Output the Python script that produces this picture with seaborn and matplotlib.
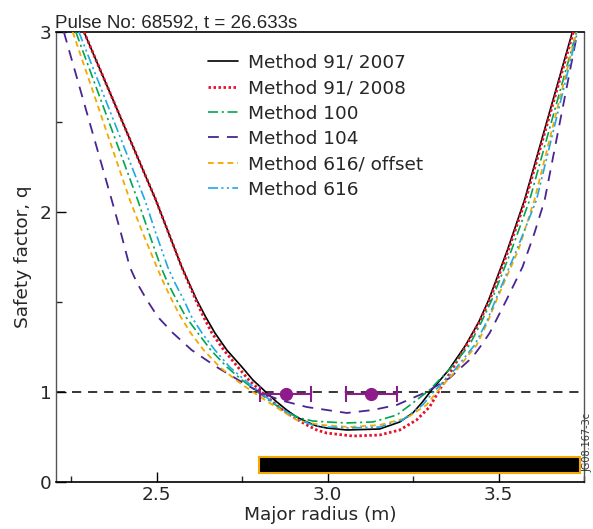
import numpy as np
import pandas as pd
import matplotlib
matplotlib.use("Agg")
import matplotlib.pyplot as plt
import seaborn as sns

# ---------------- data ----------------
labels = ["Method 91/ 2007", "Method 91/ 2008", "Method 100",
          "Method 104", "Method 616/ offset", "Method 616"]

r_9107 = [2.287, 2.497, 2.573, 2.617, 2.643, 2.670, 2.705, 2.749, 2.781, 2.819, 2.848,
          2.880, 2.909, 2.939, 2.968, 2.997, 3.056, 3.152, 3.211, 3.249, 3.275, 3.304,
          3.354, 3.404, 3.442, 3.471, 3.526, 3.576, 3.716]
q_9107 = [3.0, 2.067, 1.694, 1.511, 1.417, 1.328, 1.233, 1.139, 1.067, 1.0, 0.90,
          0.80, 0.722, 0.667, 0.622, 0.60, 0.578, 0.589, 0.667, 0.767, 0.878, 1.011,
          1.122, 1.261, 1.389, 1.511, 1.789, 2.067, 3.0]

r_9108 = [2.287, 2.497, 2.573, 2.614, 2.637, 2.661, 2.696, 2.737, 2.769, 2.807, 2.836,
          2.868, 2.904, 2.939, 2.968, 2.997, 3.073, 3.152, 3.211, 3.260, 3.298, 3.327,
          3.363, 3.406, 3.444, 3.474, 3.529, 3.579, 3.719]
q_9108 = [3.0, 2.067, 1.694, 1.511, 1.417, 1.328, 1.233, 1.139, 1.067, 1.0, 0.90,
          0.80, 0.711, 0.633, 0.578, 0.544, 0.511, 0.522, 0.578, 0.689, 0.833, 1.011,
          1.122, 1.261, 1.389, 1.511, 1.789, 2.067, 3.0]

r_100 = [2.263, 2.444, 2.477, 2.512, 2.532, 2.558, 2.585, 2.620, 2.658, 2.705, 2.749,
         2.795, 2.839, 2.880, 2.918, 2.956, 2.997, 3.056, 3.132, 3.202, 3.249, 3.298,
         3.360, 3.415, 3.450, 3.480, 3.538, 3.591, 3.728]
q_100 = [3.0, 2.067, 1.883, 1.694, 1.606, 1.511, 1.417, 1.328, 1.233, 1.139, 1.067,
         1.0, 0.878, 0.778, 0.711, 0.678, 0.667, 0.656, 0.667, 0.744, 0.878, 1.011,
         1.133, 1.261, 1.389, 1.511, 1.789, 2.067, 3.0]

r_104 = [2.228, 2.368, 2.395, 2.421, 2.442, 2.471, 2.503, 2.547, 2.602, 2.675, 2.763,
         2.801, 2.860, 2.939, 3.056, 3.132, 3.202, 3.269, 3.289, 3.357, 3.424, 3.450,
         3.474, 3.523, 3.570, 3.605, 3.635, 3.731]
q_104 = [3.0, 2.067, 1.883, 1.694, 1.606, 1.511, 1.417, 1.328, 1.233, 1.139, 1.039,
         1.0, 0.911, 0.833, 0.767, 0.80, 0.856, 0.967, 1.0, 1.078, 1.194, 1.261,
         1.328, 1.511, 1.694, 1.883, 2.067, 3.0]

r_616o = [2.254, 2.421, 2.459, 2.500, 2.520, 2.544, 2.570, 2.599, 2.637, 2.684, 2.731,
          2.781, 2.830, 2.871, 2.909, 2.947, 2.985, 3.064, 3.152, 3.231, 3.289, 3.319,
          3.377, 3.436, 3.468, 3.494, 3.558, 3.605, 3.728]
q_616o = [3.0, 2.067, 1.883, 1.694, 1.606, 1.511, 1.417, 1.328, 1.233, 1.139, 1.067,
          1.0, 0.878, 0.778, 0.689, 0.656, 0.633, 0.611, 0.633, 0.711, 0.856, 1.0,
          1.122, 1.261, 1.389, 1.511, 1.789, 2.067, 3.0]

r_616 = [2.272, 2.465, 2.497, 2.532, 2.553, 2.579, 2.602, 2.632, 2.670, 2.713, 2.757,
         2.801, 2.839, 2.880, 2.918, 2.956, 2.997, 3.064, 3.152, 3.219, 3.278, 3.307,
         3.371, 3.430, 3.465, 3.491, 3.553, 3.611, 3.731]
q_616 = [3.0, 2.067, 1.883, 1.694, 1.606, 1.511, 1.417, 1.328, 1.233, 1.139, 1.067,
         1.0, 0.889, 0.778, 0.689, 0.633, 0.611, 0.60, 0.611, 0.689, 0.856, 0.989,
         1.122, 1.261, 1.389, 1.511, 1.789, 2.067, 3.0]

# measured q=1 positions with horizontal error bars
pt_r = [2.877, 3.128]
pt_q = [0.975, 0.975]
pt_lo = [2.803, 3.053]
pt_hi = [2.952, 3.203]

# black bar
bar_r = [2.80, 3.739]
bar_q = [0.10, 0.278]

x_ticks = [2.5, 3.0, 3.5]
x_minor = [2.25, 2.75, 3.25, 3.75]
y_ticks = [0, 1, 2, 3]
y_minor = [1.5, 2.5]

# ---------------- styles ----------------
series = [
    (r_9107, q_9107, "black", "-", 1.2),
    (r_9108, q_9108, "#E8102A", (0, (0.9, 0.9)), 2.0),
    (r_100, q_100, "#00A651", (0, (6, 2.2, 1.3, 2.2)), 1.2),
    (r_104, q_104, "#4A2490", (0, (6, 4.5)), 1.3),
    (r_616o, q_616o, "#F4A800", (0, (3.2, 2.2)), 1.3),
    (r_616, q_616, "#1CA9E6", (0, (6, 2, 1.3, 2, 1.3, 2)), 1.2),
]

sns.set_theme(style="white")
plt.rcParams["font.family"] = ["DejaVu Sans"]

fig = plt.figure(figsize=(5.93, 5.29), dpi=100)
ax = fig.add_axes([56 / 593, 47 / 529, 528 / 593, 450 / 529])


def fwd(q):
    q = np.asarray(q, dtype=float)
    return np.where(q < 1, q * 0.5, q - 0.5)


def inv(s):
    s = np.asarray(s, dtype=float)
    return np.where(s < 0.5, s * 2.0, s + 0.5)


ax.set_yscale("function", functions=(fwd, inv))

for (r, q, c, ls, lw), lab in zip(series, labels):
    df = pd.DataFrame({"R": r, "q": q})
    sns.lineplot(data=df, x="R", y="q", ax=ax, color=c, linestyle=ls, lw=lw,
                 label=lab, sort=False, estimator=None, zorder=3)

ax.axhline(1, color="black", ls=(0, (6, 4.5)), lw=1.1, zorder=2)

ax.bar(bar_r[0], bar_q[1] - bar_q[0], width=bar_r[1] - bar_r[0], bottom=bar_q[0],
       align="edge", color="black", edgecolor="#F4A800", lw=1.5, zorder=4)

xerr = [np.array(pt_r) - np.array(pt_lo), np.array(pt_hi) - np.array(pt_r)]
ax.errorbar(pt_r, pt_q, xerr=xerr, fmt="o", color="#8E1A8C", ms=8.5,
            elinewidth=1.5, capsize=6, capthick=1.5, zorder=5)

ax.set_xlim(2.205, 3.75)
ax.set_ylim(0, 3)
ax.set_xticks(x_ticks)
ax.set_xticklabels([f"{v:.1f}" for v in x_ticks])
ax.set_xticks(x_minor, minor=True)
ax.set_yticks(y_ticks)
ax.set_yticklabels([str(v) for v in y_ticks])
ax.set_yticks(y_minor, minor=True)
ax.set_yticklabels([], minor=True)

ax.tick_params(which="major", direction="in", length=7, width=1, labelsize=13.3,
               pad=3, color="black", top=False, right=False, bottom=True, left=True)
ax.tick_params(which="minor", direction="in", length=4, width=1,
               top=False, right=False, bottom=True, left=True)

for side in ["top", "bottom"]:
    ax.spines[side].set_color("black")
    ax.spines[side].set_linewidth(1.2)
for side in ["left", "right"]:
    ax.spines[side].set_color("#555555")
    ax.spines[side].set_linewidth(1.0)

ax.set_xlabel("Major radius (m)", fontsize=13.3, labelpad=1)
ax.set_ylabel("Safety factor, q", fontsize=13.3, labelpad=6)

leg = ax.legend(loc="upper left", bbox_to_anchor=(0.2746, 0.968), frameon=False,
                fontsize=13.3, handlelength=1.6, handletextpad=0.53,
                labelspacing=0.4, borderaxespad=0, borderpad=0.4)

fig.text(55 / 593, 1 - 27 / 529, "Pulse No: 68592, t = 26.633s", fontsize=13.5,
         family=["Liberation Sans", "DejaVu Sans"], ha="left", va="baseline")
fig.text(592.5 / 593, 1 - 472 / 529, "JG08.167-3c", fontsize=7, rotation=90,
         ha="right", va="bottom", color="#333333")

fig.savefig("out.png", dpi=100)
